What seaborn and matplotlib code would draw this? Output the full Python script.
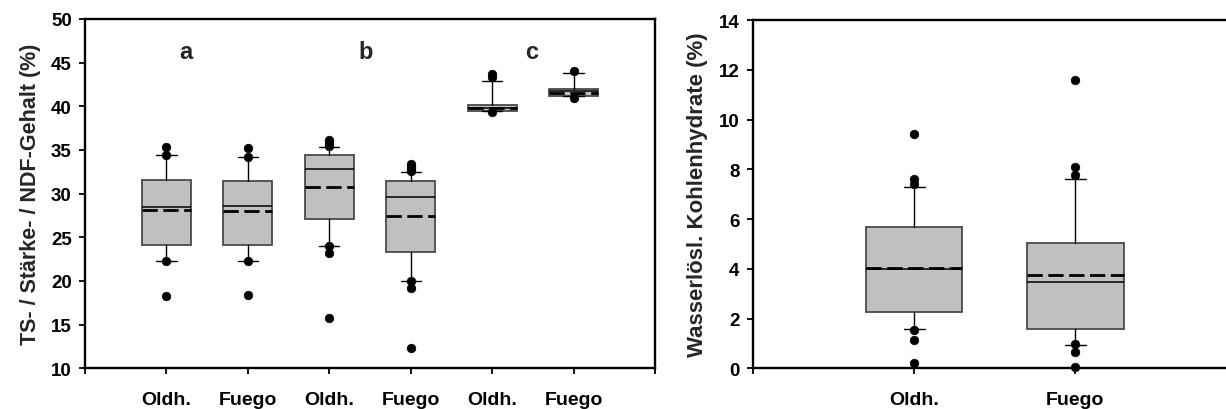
import matplotlib
matplotlib.use("Agg")
import matplotlib.pyplot as plt
import seaborn as sns
import pandas as pd

# ---------------- data ----------------
# left panel: 6 groups (a, b, c pairs)
left_cats = ["Oldh.", "Fuego", "Oldh.", "Fuego", "Oldh.", "Fuego"]
left_q1 = [24.16, 24.16, 27.10, 23.29, 39.43, 41.18]
left_med = [28.51, 28.55, 32.82, 29.62, 39.85, 41.75]
left_q3 = [31.56, 31.41, 34.43, 31.49, 40.19, 41.95]
left_mean = [28.13, 27.98, 30.72, 27.44, 39.85, 41.55]
left_whislo = [22.33, 22.29, 23.97, 19.96, 39.43, 41.18]
left_whishi = [34.39, 34.16, 35.38, 32.52, 42.94, 43.80]
left_out = [
    [35.3, 34.45, 22.3, 18.3],
    [35.2, 34.25, 22.3, 18.35],
    [36.2, 35.95, 35.7, 35.5, 24.0, 23.2, 15.8],
    [33.4, 33.1, 32.8, 32.6, 20.0, 19.2, 12.35],
    [43.7, 43.35, 39.4],
    [44.1, 40.92],
]
group_letters = ["a", "b", "c"]
letter_x = [1.24, 3.45, 5.49]

# right panel: 2 groups
right_cats = ["Oldh.", "Fuego"]
right_q1 = [2.28, 1.57]
right_med = [3.99, 3.46]
right_q3 = [5.68, 5.02]
right_mean = [4.04, 3.74]
right_whislo = [1.57, 0.94]
right_whishi = [7.29, 7.61]
right_out = [
    [9.42, 7.61, 7.41, 1.54, 1.14, 0.20],
    [11.6, 8.08, 7.78, 0.98, 0.67, 0.07],
]

# ---------------- style ----------------
sns.set_style("ticks")
plt.rcParams["font.family"] = ["Liberation Sans", "DejaVu Sans"]
plt.rcParams["font.weight"] = "bold"

BOX_FILL = "#c0c0c0"
BOX_EDGE = "#4a4a4a"

fig = plt.figure(figsize=(12.26, 4.10), dpi=100)
axL = fig.add_axes([85 / 1226, 40.7 / 410, 570 / 1226, 349.3 / 410])
axR = fig.add_axes([752.7 / 1226, 40.7 / 410, 484 / 1226, 348.3 / 410])


def draw(ax, cats, q1, med, q3, mean, wlo, whi, outs, capw):
    stats = []
    for i in range(len(cats)):
        stats.append(dict(q1=q1[i], med=med[i], q3=q3[i], mean=mean[i],
                          whislo=wlo[i], whishi=whi[i], fliers=[], label=cats[i]))
    pos = list(range(1, len(cats) + 1))
    ax.bxp(stats, positions=pos, widths=0.6, patch_artist=True,
           showmeans=True, meanline=True, showfliers=False,
           capwidths=capw, manage_ticks=False,
           boxprops=dict(facecolor=BOX_FILL, edgecolor=BOX_EDGE, linewidth=1.3),
           medianprops=dict(color="black", linewidth=1.1),
           meanprops=dict(color="black", linewidth=2.0, linestyle=(0, (5.5, 2.0))),
           whiskerprops=dict(color="black", linewidth=1.0),
           capprops=dict(color="black", linewidth=1.0))
    rows = [(p, v) for p, vals in zip(pos, outs) for v in vals]
    df = pd.DataFrame(rows, columns=["x", "y"])
    sns.scatterplot(data=df, x="x", y="y", ax=ax, color="black", s=38,
                    edgecolor="black", linewidth=0.5, zorder=5, clip_on=False,
                    legend=False)


draw(axL, left_cats, left_q1, left_med, left_q3, left_mean,
     left_whislo, left_whishi, left_out, 0.25)
draw(axR, right_cats, right_q1, right_med, right_q3, right_mean,
     right_whislo, right_whishi, right_out, 0.13)

# ---------------- axes formatting ----------------
for ax in (axL, axR):
    for sp in ax.spines.values():
        sp.set_linewidth(1.7)
        sp.set_color("black")
    ax.tick_params(axis="both", direction="out", length=4.5, width=1.3,
                   color="black", labelsize=13.5, labelcolor="black")
    ax.tick_params(axis="y", pad=5)
    ax.tick_params(axis="x", pad=12, labelsize=14)
    ax.set_xlabel("")
    ax.set_ylabel("")

axL.set_xlim(0, 7)
axL.set_ylim(10, 50)
axL.set_yticks(range(10, 51, 5))
axL.set_xticks(range(0, 8))
axL.set_xticklabels([""] + left_cats + [""], fontweight="bold")
axL.set_yticklabels([str(v) for v in range(10, 51, 5)], fontweight="bold")
axL.set_ylabel("TS- / Stärke- / NDF-Gehalt (%)", fontsize=15.5,
               fontweight="bold", labelpad=7)
for lx, lt in zip(letter_x, group_letters):
    axL.text(lx, 45.5, lt, ha="center", va="baseline", fontsize=17,
             fontweight="bold")

axR.set_xlim(0, 3)
axR.set_ylim(0, 14)
axR.set_yticks(range(0, 15, 2))
axR.set_yticklabels([str(v) for v in range(0, 15, 2)], fontweight="bold")
axR.set_xticks([0, 1, 2, 3])
axR.set_xticklabels([""] + right_cats + [""], fontweight="bold")
axR.set_ylabel("Wasserlösl. Kohlenhydrate (%)", fontsize=16,
               fontweight="bold", labelpad=8)

fig.savefig("out.png", dpi=100)
